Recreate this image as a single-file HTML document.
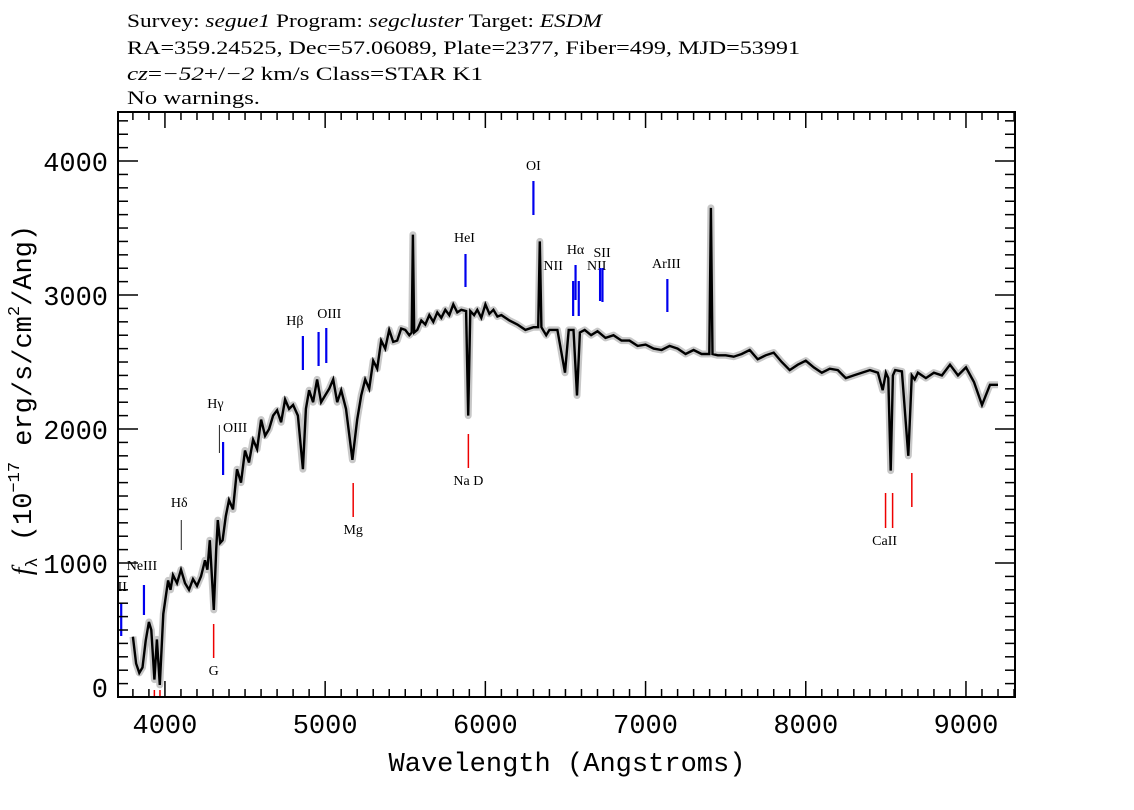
<!DOCTYPE html>
<html><head><meta charset="utf-8"><style>
html,body{margin:0;padding:0;background:#fff;}
svg{display:block;}
</style></head><body>
<svg id="chart" width="1134" height="810" viewBox="0 0 1134 810" xmlns="http://www.w3.org/2000/svg">
<g font-family="'Liberation Serif', serif" font-size="19" fill="#000">
<text x="127" y="27" textLength="475" lengthAdjust="spacingAndGlyphs">Survey: <tspan font-style="italic">segue1</tspan> Program: <tspan font-style="italic">segcluster</tspan> Target: <tspan font-style="italic">ESDM</tspan></text>
<text x="127" y="54" textLength="673" lengthAdjust="spacingAndGlyphs">RA=359.24525, Dec=57.06089, Plate=2377, Fiber=499, MJD=53991</text>
<text x="127" y="80" textLength="356" lengthAdjust="spacingAndGlyphs"><tspan font-style="italic">cz</tspan>=<tspan font-style="italic">−52</tspan>+/<tspan font-style="italic">−2</tspan> km/s Class=STAR K1</text>
<text x="127" y="104" textLength="133" lengthAdjust="spacingAndGlyphs">No warnings.</text>
</g>
<defs><clipPath id="plotclip"><rect x="118" y="112" width="897" height="585"/></clipPath></defs>
<g id="plot" clip-path="url(#plotclip)"></g>
<g id="axes"></g>
<text x="567" y="771" text-anchor="middle" font-family="'Liberation Mono', monospace" font-size="27" textLength="357" lengthAdjust="spacingAndGlyphs">Wavelength (Angstroms)</text>
<text transform="translate(31,400) rotate(-90)" text-anchor="middle" font-family="'Liberation Mono', monospace" font-size="27"><tspan font-style="italic" font-family="'Liberation Serif', serif">f</tspan><tspan font-size="17" dy="6">λ</tspan><tspan dy="-6"> (10</tspan><tspan font-size="17" dy="-12">−17</tspan><tspan dy="12"> erg/s/cm</tspan><tspan font-size="17" dy="-12">2</tspan><tspan dy="12">/Ang)</tspan></text>
</svg>
<script>
const wavelengths=[3800,3820,3840,3860,3880,3900,3915,3934,3950,3968,3990,4020,4035,4050,4075,4100,4125,4150,4175,4200,4225,4250,4265,4280,4305,4320,4330,4345,4360,4380,4400,4425,4450,4475,4500,4525,4550,4575,4600,4625,4650,4675,4700,4725,4750,4775,4800,4830,4861,4880,4900,4925,4950,4975,5000,5025,5050,5075,5100,5130,5170,5200,5225,5250,5275,5300,5325,5350,5375,5400,5425,5450,5475,5500,5525,5540,5548,5556,5575,5600,5625,5650,5675,5700,5725,5750,5775,5800,5825,5850,5880,5893,5906,5930,5950,5975,6000,6025,6050,6075,6100,6150,6200,6250,6300,6330,6340,6350,6380,6400,6450,6497,6520,6550,6572,6590,6620,6660,6700,6750,6800,6850,6900,6950,7000,7050,7100,7150,7200,7250,7300,7350,7398,7408,7418,7450,7500,7550,7600,7650,7700,7750,7800,7850,7900,7950,8000,8050,8100,8150,8200,8250,8300,8350,8400,8450,8480,8500,8515,8530,8544,8558,8600,8640,8662,8680,8700,8750,8800,8850,8900,8950,9000,9050,9100,9150,9200,9230];
const fluxes=[450,250,180,220,420,560,500,130,430,90,620,870,800,910,850,950,850,800,880,830,900,1020,950,1170,650,1100,1320,1150,1170,1350,1470,1400,1700,1600,1840,1750,1920,1850,2070,1950,2000,2100,2140,2050,2220,2150,2180,2100,1700,2150,2290,2200,2370,2200,2250,2300,2370,2200,2290,2150,1770,2070,2250,2370,2300,2510,2450,2660,2600,2740,2650,2660,2750,2740,2700,2720,3450,2720,2740,2810,2780,2850,2800,2870,2830,2890,2850,2930,2870,2890,2880,2100,2880,2850,2890,2830,2930,2860,2890,2840,2850,2810,2780,2740,2760,2760,3400,2760,2700,2740,2740,2420,2740,2740,2250,2720,2740,2700,2730,2680,2700,2660,2660,2620,2630,2600,2590,2620,2600,2560,2590,2560,2560,3650,2560,2550,2550,2540,2560,2590,2520,2550,2570,2500,2440,2480,2510,2460,2420,2450,2440,2380,2400,2420,2440,2420,2290,2420,2380,1690,2400,2440,2430,1800,2400,2370,2420,2380,2420,2400,2480,2400,2460,2350,2180,2330,2330];
const xTicks=[4000,5000,6000,7000,8000,9000];
const yTicks=[0,1000,2000,3000,4000];
const emissionWaves=[3727,3869,4102,4340,4363,4861,4959,5007,5876,6300,6548,6563,6583,6716,6731,7136];
const absorptionWaves=[3934,3969,4304,5175,5894,8498,8542,8662];
const xMin=3707,xMax=9306,yMin=0,yMax=4366;
const X0=118,X1=1015,Y0=697,Y1=112;
function xs(l){return X0+(l-xMin)/(xMax-xMin)*(X1-X0);}
function ys(f){return Y0-(f-yMin)/(yMax-yMin)*(Y0-Y1);}
const NS="http://www.w3.org/2000/svg";
function mk(tag,attrs,parent){const e=document.createElementNS(NS,tag);for(const k in attrs)e.setAttribute(k,attrs[k]);parent.appendChild(e);return e;}
const plot=document.getElementById('plot'),axes=document.getElementById('axes');
let d='';wavelengths.forEach((l,i)=>{d+=(i?'L':'M')+xs(l).toFixed(1)+','+ys(fluxes[i]).toFixed(1);});
const err=mk('path',{d:d,fill:'none',stroke:'#c8c8c8','stroke-width':7,'stroke-linejoin':'round'},plot);


const line=mk('path',{d:d,fill:'none',stroke:'#000','stroke-width':2.4,'stroke-linejoin':'miter'},plot);


const emLabels={3727:['OII',-4,-12,603,636],3869:['NeIII',-2,-15,585,615],4102:['Hδ',-2,-13,520,550],4340:['Hγ',-4,-17,425,453],4363:['OIII',12,-10,442,475],4861:['Hβ',-8,-11,336,370],4959:['',0,0,332,366],5007:['OIII',3,-10,328,363],5876:['HeI',-1,-12,254,287],6300:['OI',0,-11,181,215],6548:['NII',-20,-11,281,316],6563:['Hα',0,-11,265,300],6583:['NII',18,-11,281,316],6716:['SII',2,-11,268,301],6731:['',0,0,268,302],7136:['ArIII',-1,-11,279,312]};
emissionWaves.forEach(w=>{const v=emLabels[w];const x=xs(w);
 const m=mk('line',{x1:x,x2:x,y1:v[3],y2:v[4],stroke:(w===4102||w===4340)?'#222':'#0000ee','stroke-width':(w===4102||w===4340)?1:2.2},plot);
 
 
 if(v[0]){const t=mk('text',{x:x+v[1],y:v[3]+v[2],'text-anchor':'middle','font-family':"'Liberation Serif', serif",'font-size':14},plot);t.textContent=v[0];
 
 }
});
const abLabels={3934:['',0,690,697],3969:['',0,690,697],4304:['G',0,624,658],5175:['Mg',0,483,517],5894:['Na  D',0,434,468],8498:['',0,493,528],8542:['CaII',-8,493,528],8662:['',0,473,507]};
absorptionWaves.forEach(w=>{const v=abLabels[w];const x=xs(w);
 const m=mk('line',{x1:x,x2:x,y1:v[2],y2:v[3],stroke:'#ee0000','stroke-width':1.5},plot);
 
 
 if(v[0]){const t=mk('text',{x:x+v[1],y:v[3]+17,'text-anchor':'middle','font-family':"'Liberation Serif', serif",'font-size':14,'xml:space':'preserve'},plot);t.textContent=v[0];
 
 }
});
const fr=mk('rect',{x:X0,y:Y1,width:X1-X0,height:Y0-Y1,fill:'none',stroke:'#000','stroke-width':2},axes);


for(let l=3800;l<=9300;l+=100){const x=xs(l);const major=l%1000===0;const L=major?16:8;
 mk('line',{x1:x,x2:x,y1:Y0,y2:Y0-L,stroke:'#000','stroke-width':1.5},axes);
 mk('line',{x1:x,x2:x,y1:Y1,y2:Y1+L,stroke:'#000','stroke-width':1.5},axes);}
for(let f=0;f<=4300;f+=100){const y=ys(f);const major=f%1000===0;const L=major?20:10;
 mk('line',{x1:X0,x2:X0+L,y1:y,y2:y,stroke:'#000','stroke-width':1.5},axes);
 mk('line',{x1:X1,x2:X1-L,y1:y,y2:y,stroke:'#000','stroke-width':1.5},axes);}
xTicks.forEach(l=>{const t=mk('text',{x:xs(l),y:733,'text-anchor':'middle','font-family':"'Liberation Mono', monospace",'font-size':27},axes);t.textContent=l;
 
 });
yTicks.forEach(f=>{const yy=f===0?697:ys(f)+10;const t=mk('text',{x:108,y:yy,'text-anchor':'end','font-family':"'Liberation Mono', monospace",'font-size':27},axes);t.textContent=f;
 
 });
</script>
</body></html>
